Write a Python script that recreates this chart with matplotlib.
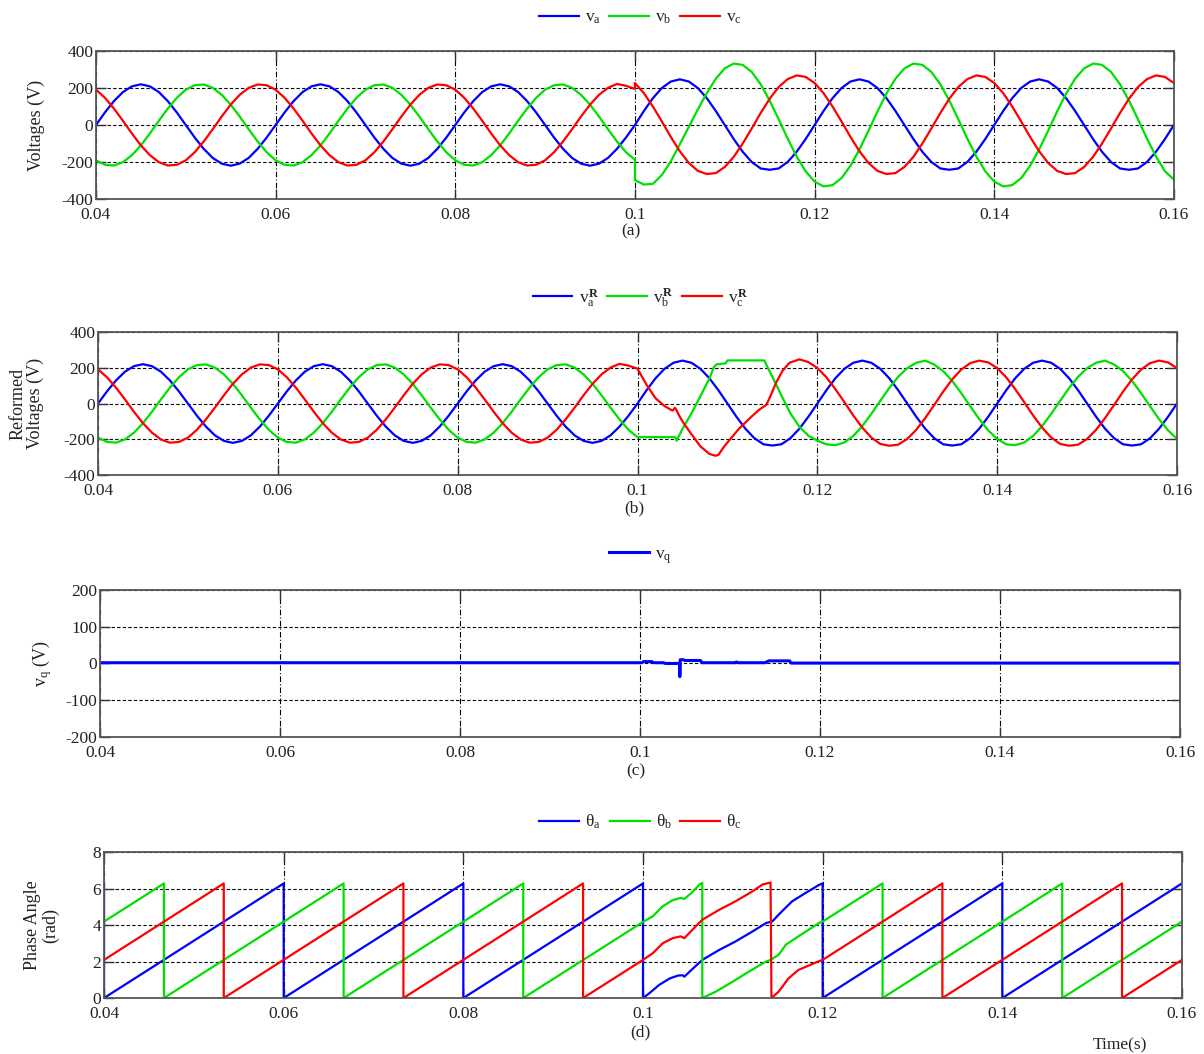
import numpy as np
import matplotlib
matplotlib.use("Agg")
from matplotlib import pyplot as plt

plt.rcParams["font.family"] = ["Liberation Serif", "DejaVu Serif"]
plt.rcParams["mathtext.fontset"] = "custom"
plt.rcParams["mathtext.rm"] = "Liberation Serif"
plt.rcParams["mathtext.it"] = "Liberation Serif"
plt.rcParams["mathtext.bf"] = "Liberation Serif:bold"
plt.rcParams["axes.unicode_minus"] = False

# sample times (ms)
t_pre = np.arange(40, 101)
t_post = np.arange(100, 161)

# (a) measured voltages, before the fault (also the reformed ones before 0.1 s)
va_pre = [0, 68, 129, 178, 209, 220, 209, 178, 129, 68, 0, -68, -129, -178, -209, -220, -209, -178, -129, -68,
          0, 68, 129, 178, 209, 220, 209, 178, 129, 68, 0, -68, -129, -178, -209, -220, -209, -178, -129, -68,
          0, 68, 129, 178, 209, 220, 209, 178, 129, 68, 0, -68, -129, -178, -209, -220, -209, -178, -129, -68,
          0]
vb_pre = [-191, -215, -219, -201, -163, -110, -46, 23, 89, 147, 191, 215, 219, 201, 163, 110, 46, -23, -89, -147,
          -191, -215, -219, -201, -163, -110, -46, 23, 89, 147, 191, 215, 219, 201, 163, 110, 46, -23, -89, -147,
          -191, -215, -219, -201, -163, -110, -46, 23, 89, 147, 191, 215, 219, 201, 163, 110, 46, -23, -89, -147,
          -188]
vc_pre = [191, 147, 89, 23, -46, -110, -163, -201, -219, -215, -191, -147, -89, -23, 46, 110, 163, 201, 219, 215,
          191, 147, 89, 23, -46, -110, -163, -201, -219, -215, -191, -147, -89, -23, 46, 110, 163, 201, 219, 215,
          191, 147, 89, 23, -46, -110, -163, -201, -219, -215, -191, -147, -89, -23, 46, 110, 163, 201, 222, 212,
          195]

# (a) measured voltages after the fault
va_post = [0, 76, 145, 200, 235, 247, 235, 200, 145, 76, 0, -76, -145, -200, -235, -242, -235, -200, -145, -76,
           0, 76, 145, 200, 235, 247, 235, 200, 145, 76, 0, -76, -145, -200, -235, -242, -235, -200, -145, -76,
           0, 76, 145, 200, 235, 247, 235, 200, 145, 76, 0, -76, -145, -200, -235, -242, -235, -200, -145, -76,
           0]
vb_post = [-298, -322, -318, -270, -196, -104, -10, 84, 172, 250, 306, 332, 325, 287, 220, 132, 31, -73, -170, -250,
           -306, -332, -325, -287, -220, -132, -31, 73, 170, 250, 306, 332, 325, 287, 220, 132, 31, -73, -170, -250,
           -306, -332, -325, -287, -220, -132, -31, 73, 170, 250, 306, 332, 325, 287, 220, 132, 31, -73, -170, -250,
           -295]
vc_post = [227, 172, 100, 19, -65, -142, -205, -248, -265, -260, -227, -172, -100, -19, 65, 142, 205, 248, 268, 260,
           227, 172, 100, 19, -65, -142, -205, -248, -265, -260, -227, -172, -100, -19, 65, 142, 205, 248, 268, 260,
           227, 172, 100, 19, -65, -142, -205, -248, -265, -260, -227, -172, -100, -19, 65, 142, 205, 248, 268, 260,
           227]

# (b) reformed voltages after the fault
vaR_post = [0, 74, 141, 194, 228, 240, 228, 194, 141, 74, 0, -74, -141, -194, -228, -235, -228, -194, -141, -74,
            0, 74, 141, 194, 228, 240, 228, 194, 141, 74, 0, -74, -141, -194, -228, -235, -228, -194, -141, -74,
            0, 74, 141, 194, 228, 240, 228, 194, 141, 74, 0, -74, -141, -194, -228, -235, -228, -194, -141, -74,
            0]
t_vbR = [100, 104.2, 104.35, 105, 106, 107, 108, 108.5, 108.8, 109.8, 110, 114.1, 114.4, 115, 116, 117, 118, 119,
         120, 121, 122, 123, 124, 125, 126, 127, 128, 129, 130, 131, 132, 133, 134, 135, 136, 137, 138, 139, 140,
         141, 142, 143, 144, 145, 146, 147, 148, 149, 150, 151, 152, 153, 154, 155, 156, 157, 158, 159, 160]
vbR_post = [-188, -188, -208, -142, -55, 42, 140, 205, 219, 225, 241, 241, 209, 150, 45, -55, -130, -180,
            -208, -228, -233, -218, -181, -126, -58, 15, 87, 150, 198, 228, 240, 218, 181, 126, 58, -15, -87, -150, -198,
            -228, -233, -218, -181, -126, -58, 15, 87, 150, 198, 228, 240, 218, 181, 126, 58, -15, -87, -150, -198]
t_vcR = [100, 101, 102, 103, 103.9, 104.15, 104.35, 104.5, 105, 106, 107, 108, 108.7, 109, 109.6, 110.2, 111.3,
         112.6, 113.5, 114.3, 114.6, 115.4, 116.1, 116.9, 118, 119,
         120, 121, 122, 123, 124, 125, 126, 127, 128, 129, 130, 131, 132, 133, 134, 135, 136, 137, 138, 139, 140,
         141, 142, 143, 144, 145, 146, 147, 148, 149, 150, 151, 152, 153, 154, 155, 156, 157, 158, 159, 160]
vcR_post = [195, 105, 30, -14, -40, -24, -38, -55, -100, -172, -240, -282, -292, -287, -243, -206, -140,
            -77, -36, -8, 21, 115, 181, 228, 247, 232,
            199, 147, 81, 8, -67, -135, -190, -226, -236, -230, -198, -147, -81, -8, 67, 135, 190, 226, 240, 230, 198,
            147, 81, 8, -67, -135, -190, -226, -236, -230, -198, -147, -81, -8, 67, 135, 190, 226, 240, 230, 198]

# (c) q-axis voltage
t_vq = [40, 100.2, 100.4, 101.3, 101.5, 102.6, 102.8, 104.4, 104.42, 104.46, 104.8, 105, 106.7, 106.9,
        110.6, 110.7, 110.9, 113.9, 114.3, 116.6, 116.8, 160]
vq = [2, 2, 5, 5, 2, 2, 0, 0, -36, 10, 10, 8, 8, 2, 2, 4, 2, 2, 7, 7, 1, 1]

# (d) phase angles
t_tha = [40, 40, 60, 60, 80, 80, 100, 100, 100.7, 101.8, 103.0, 103.9, 104.4, 104.6, 105.2, 106.6, 108.5,
         110.3, 112.2, 113.7, 114.4, 115.1, 116.6, 118.1, 119.6, 120, 120, 140, 140, 160]
tha = [6.28, 0, 6.28, 0, 6.28, 0, 6.28, 0, 0.26, 0.72, 1.08, 1.23, 1.25, 1.17, 1.45, 2.09, 2.64,
       3.1, 3.65, 4.11, 4.2, 4.57, 5.3, 5.76, 6.2, 6.28, 0, 6.28, 0, 6.28]
t_thb = [40, 46.67, 46.67, 66.67, 66.67, 86.67, 86.67, 100, 101.1, 102.2, 103.3, 104.2, 104.6, 105.4, 106.3,
         106.6, 106.6, 108.1, 110.0, 111.8, 113.7, 114.2, 115.1, 115.9, 117.3, 119.6, 120, 126.67, 126.67,
         146.67, 146.67, 160]
thb = [4.19, 6.28, 0, 6.28, 0, 6.28, 0, 4.17, 4.48, 5.03, 5.36, 5.49, 5.43, 5.76, 6.22,
       6.31, 0, 0.35, 0.9, 1.45, 2.0, 2.09, 2.37, 2.92, 3.38, 4.11, 4.19, 6.28, 0,
       6.28, 0, 4.19]
t_thc = [40, 53.33, 53.33, 73.33, 73.33, 93.33, 93.33, 100, 101.1, 102.2, 103.3, 104.2, 104.6, 105.5, 106.6,
         108.5, 110.3, 112.2, 113.3, 114.2, 114.3, 115.1, 116.2, 117.3, 119.6, 120, 133.33, 133.33,
         153.33, 153.33, 160]
thc = [2.09, 6.28, 0, 6.28, 0, 6.28, 0, 2.09, 2.46, 3.0, 3.28, 3.38, 3.28, 3.74, 4.29,
       4.84, 5.3, 5.85, 6.22, 6.33, 0, 0.35, 1.08, 1.54, 2.02, 2.09, 6.28, 0,
       6.28, 0, 2.09]

BLUE, GREEN, RED = "#0000ff", "#00e000", "#ff0000"
TXT = "#222222"

fig = plt.figure(figsize=(12.04, 10.54), dpi=100)
rects = [[0.0797, 0.8112, 0.8953, 0.1404],
         [0.0814, 0.5493, 0.8962, 0.1357],
         [0.0831, 0.3008, 0.8970, 0.1395],
         [0.0864, 0.0531, 0.8953, 0.1385]]
axes = [fig.add_axes(r) for r in rects]


def ms(t):
    return np.asarray(t, dtype=float) / 1000.0


def style(ax, ylim, yticks):
    ax.set_xlim(0.04, 0.16)
    ax.set_ylim(*ylim)
    ax.set_yticks(yticks)
    ax.set_xticks([0.04, 0.06, 0.08, 0.1, 0.12, 0.14, 0.16])
    ax.set_xticklabels(["0.04", "0.06", "0.08", "0.1", "0.12", "0.14", "0.16"])
    ax.tick_params(direction="in", length=7, width=1, top=True, right=True,
                   labelsize=12.5, colors="#333333", labelcolor=TXT)
    ax.tick_params(axis="x", pad=6)
    ax.tick_params(axis="y", pad=2)
    ax.xaxis.grid(True, linestyle=(0, (5, 2, 1, 2)), color="black", lw=0.8)
    ax.yaxis.grid(True, linestyle=(0, (3, 2)), color="black", lw=0.8)
    ax.set_axisbelow(True)
    for s in ax.spines.values():
        s.set_color("#555555")
        s.set_linewidth(1.3)


def legend(ax, y, labels):
    h = ax.get_lines()
    fig.legend(h, labels, loc="center", bbox_to_anchor=(0.532, y), ncol=len(labels),
               frameon=False, fontsize=12.5, handlelength=2.3, handletextpad=0.35,
               columnspacing=0.5, labelcolor=TXT)


lw = 1.6
# (a)
ax = axes[0]
ta = ms(np.concatenate([t_pre, t_post]))
ax.plot(ta, va_pre + va_post, color=BLUE, lw=lw)
ax.plot(ta, vb_pre + vb_post, color=GREEN, lw=lw)
ax.plot(ta, vc_pre + vc_post, color=RED, lw=lw)
style(ax, (-400, 400), [-400, -200, 0, 200, 400])
ax.set_ylabel("Voltages (V)", fontsize=13, color=TXT)
ax.yaxis.set_label_coords(-0.047, 0.5)
legend(ax, 0.983, ["$v_a$", "$v_b$", "$v_c$"])

# (b)
ax = axes[1]
ax.plot(ta, va_pre + vaR_post, color=BLUE, lw=lw)
ax.plot(ms(np.concatenate([t_pre, t_vbR])), vb_pre + vbR_post, color=GREEN, lw=lw)
ax.plot(ms(np.concatenate([t_pre, t_vcR])), vc_pre + vcR_post, color=RED, lw=lw)
style(ax, (-400, 400), [-400, -200, 0, 200, 400])
ax.set_ylabel("Reformed\nVoltages (V)", fontsize=13, color=TXT, linespacing=1.0)
ax.yaxis.set_label_coords(-0.05, 0.5)
legend(ax, 0.718, [r"$v_a^{\mathbf{R}}$", r"$v_b^{\mathbf{R}}$", r"$v_c^{\mathbf{R}}$"])

# (c)
ax = axes[2]
ax.plot(ms(t_vq), vq, color=BLUE, lw=2.2)
style(ax, (-200, 200), [-200, -100, 0, 100, 200])
ax.set_ylabel("$v_q$ (V)", fontsize=13, color=TXT)
ax.yaxis.set_label_coords(-0.043, 0.5)
legend(ax, 0.4725, ["$v_q$"])

# (d)
ax = axes[3]
ax.plot(ms(t_tha), tha, color=BLUE, lw=lw)
ax.plot(ms(t_thb), thb, color=GREEN, lw=lw)
ax.plot(ms(t_thc), thc, color=RED, lw=lw)
style(ax, (0, 8), [0, 2, 4, 6, 8])
ax.set_ylabel("Phase Angle\n(rad)", fontsize=13, color=TXT, linespacing=1.0)
ax.yaxis.set_label_coords(-0.042, 0.5)
legend(ax, 0.22, [r"$\theta_a$", r"$\theta_b$", r"$\theta_c$"])

for lab, x, y in [("(a)", 0.524, 0.780), ("(b)", 0.527, 0.518), ("(c)", 0.528, 0.2685), ("(d)", 0.532, 0.0209)]:
    fig.text(x, y, lab, ha="center", va="center", fontsize=12.5, color=TXT)
fig.text(0.930, 0.0085, "Time(s)", ha="center", va="center", fontsize=12.5, color=TXT)

fig.savefig("out.png", dpi=100)
